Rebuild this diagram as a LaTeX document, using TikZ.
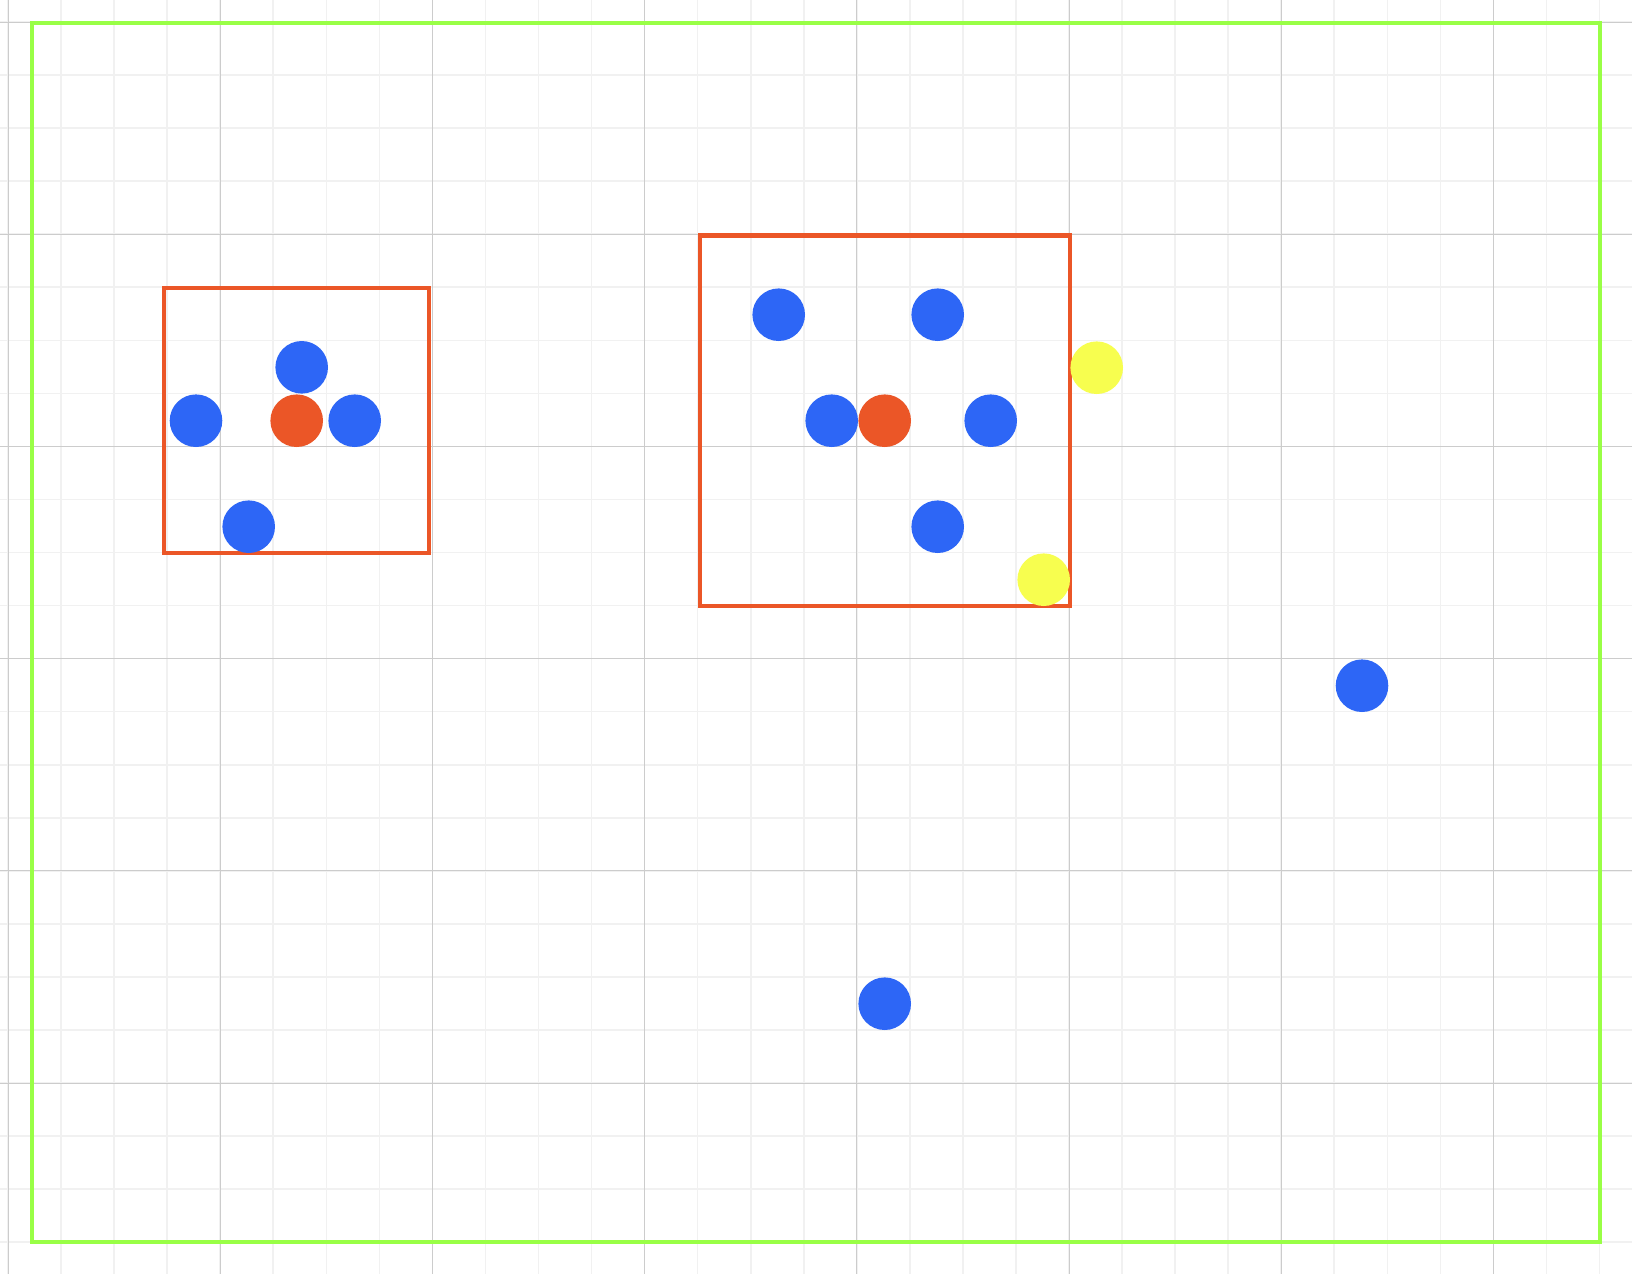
\documentclass[tikz,border=0pt]{standalone}
\definecolor{gmajor}{HTML}{CCCCCC}
\definecolor{gminor}{HTML}{F1F1F1}
\definecolor{frameg}{HTML}{99FF46}
\definecolor{boxo}{HTML}{EB5627}
\definecolor{dotb}{HTML}{2D66F6}
\definecolor{doto}{HTML}{EB5627}
\definecolor{doty}{HTML}{F7FE4F}
\tikzset{
  dot/.style={circle, inner sep=0pt, minimum size=52.6pt, draw=none},
  bdot/.style={dot, fill=dotb},
  odot/.style={dot, fill=doto},
  ydot/.style={dot, fill=doty},
  obox/.style={draw=boxo, line width=4.6pt},
  gframe/.style={draw=frameg, line width=4.6pt}
}
\begin{document}
\begin{tikzpicture}[x=1pt,y=-1pt]
\useasboundingbox (0,0) rectangle (1632,1274);
\fill[white] (0,0) rectangle (1632,1274);
% minor grid
\foreach \k in {0,...,30} {
  \pgfmathsetmacro{\xx}{8+53.05*\k}
  \draw[gminor, line width=1.6pt] (\xx,0) -- (\xx,1274);
}
\foreach \k in {0,...,24} {
  \pgfmathsetmacro{\yy}{22+53.05*\k}
  \draw[gminor, line width=1.6pt] (0,\yy) -- (1632,\yy);
}
% major grid
\foreach \k in {0,...,7} {
  \pgfmathsetmacro{\xx}{8+212.2*\k}
  \draw[gmajor, line width=1pt] (\xx,0) -- (\xx,1274);
}
\foreach \k in {0,...,6} {
  \pgfmathsetmacro{\yy}{22+212.2*\k}
  \draw[gmajor, line width=1pt] (0,\yy) -- (1632,\yy);
}
% outer frame
\draw[gframe] (32,23) rectangle (1600,1242);
% boxes
\draw[obox] (164,288) rectangle (429,553);
\draw[obox] (700,235.5) rectangle (1070,606);
% left group
\node[bdot] (l1) at (301.7,367.3) {};
\node[bdot] (l2) at (196,420.7) {};
\node[odot] (l3) at (296.7,420.7) {};
\node[bdot] (l4) at (354.7,420.7) {};
\node[bdot] (l5) at (248.7,526.7) {};
% right group
\node[bdot] (r1) at (778.7,314.7) {};
\node[bdot] (r2) at (937.7,314.7) {};
\node[bdot] (r3) at (831.7,420.7) {};
\node[odot] (r4) at (884.7,420.7) {};
\node[bdot] (r5) at (990.7,420.7) {};
\node[bdot] (r6) at (937.7,526.7) {};
\node[ydot] (y1) at (1096.7,367.7) {};
\node[ydot] (y2) at (1043.7,579.7) {};
% outside
\node[bdot] (o1) at (1362,685.7) {};
\node[bdot] (o2) at (884.7,1003.7) {};
\end{tikzpicture}
\end{document}
